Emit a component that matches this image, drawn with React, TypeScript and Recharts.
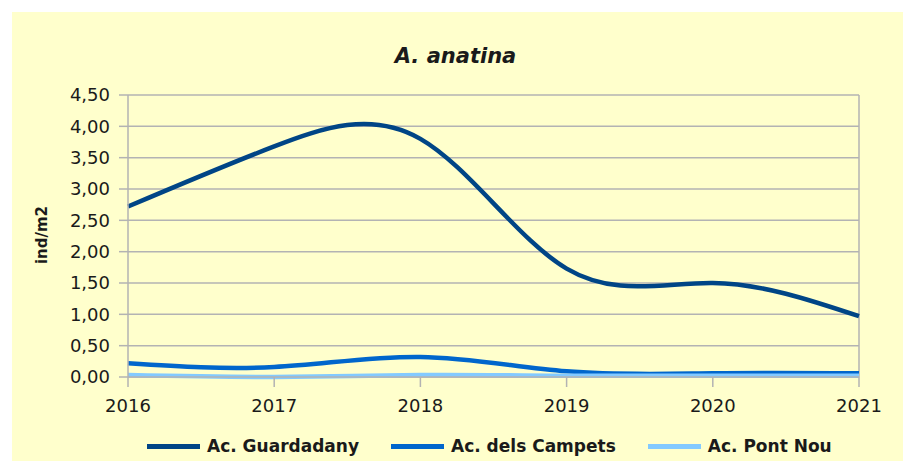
import {
  CartesianGrid,
  Line,
  LineChart,
  ReferenceLine,
  XAxis,
  YAxis,
} from "recharts";

const years = [2016, 2017, 2018, 2019, 2020, 2021];
const guardadany = [2.72, 3.68, 3.8, 1.73, 1.5, 0.97];
const campets = [0.22, 0.16, 0.32, 0.09, 0.06, 0.06];
const pontNou = [0.03, 0.0, 0.03, 0.02, 0.02, 0.02];
const yTicks = [0, 0.5, 1, 1.5, 2, 2.5, 3, 3.5, 4, 4.5];

const series = [
  { key: "guardadany", name: "Ac. Guardadany", color: "#004586" },
  { key: "campets", name: "Ac. dels Campets", color: "#0066cc" },
  { key: "pontNou", name: "Ac. Pont Nou", color: "#83caff" },
];

const data = years.map((year, i) => ({
  year,
  guardadany: guardadany[i],
  campets: campets[i],
  pontNou: pontNou[i],
}));

const W = 891;
const H = 449;
const GRID = "#b3b3b3";
const TEXT = "#1a1a1a";
const FONT = "'DejaVu Sans', Verdana, sans-serif";

const fmt = (v: number) => v.toFixed(2).replace(".", ",");

export default function App() {
  return (
    <div
      style={{
        position: "absolute",
        left: 12,
        top: 12,
        width: W,
        height: H,
        background: "#ffffcc",
        fontFamily: FONT,
      }}
    >
      <div
        style={{
          position: "absolute",
          left: 0,
          width: W - 4,
          top: 32,
          textAlign: "center",
          fontWeight: "bold",
          fontStyle: "italic",
          fontSize: 21,
          color: TEXT,
        }}
      >
        A. anatina
      </div>
      <div
        style={{
          position: "absolute",
          left: 30,
          top: 223,
          transform: "translate(-50%, -50%) rotate(-90deg)",
          fontWeight: "bold",
          fontSize: 15,
          color: TEXT,
          whiteSpace: "nowrap",
        }}
      >
        ind/m2
      </div>
      <LineChart
        width={W}
        height={H}
        data={data}
        margin={{ top: 83, right: 44, bottom: 44, left: 6 }}
      >
        <CartesianGrid stroke={GRID} strokeWidth={1.5} vertical={false} />
        <XAxis
          dataKey="year"
          type="number"
          domain={[2016, 2021]}
          ticks={years}
          tickSize={10}
          tickMargin={12}
          height={40}
          stroke={GRID}
          strokeWidth={1.5}
          tick={{ fill: TEXT, fontSize: 18, fontFamily: FONT }}
        />
        <YAxis
          type="number"
          domain={[0, 4.5]}
          ticks={yTicks}
          tickFormatter={fmt}
          width={110}
          tickSize={9}
          tickMargin={9}
          stroke={GRID}
          strokeWidth={1.5}
          tick={{ fill: TEXT, fontSize: 18, fontFamily: FONT }}
        />
        <ReferenceLine x={2021} stroke={GRID} strokeWidth={1.5} />
        {series.map((s) => (
          <Line
            key={s.key}
            dataKey={s.key}
            name={s.name}
            type="natural"
            stroke={s.color}
            strokeWidth={4.5}
            dot={false}
            activeDot={false}
            isAnimationActive={false}
          />
        ))}
      </LineChart>
      <div
        style={{
          position: "absolute",
          left: 135,
          top: 424,
          display: "flex",
          alignItems: "center",
          fontWeight: "bold",
          fontSize: 17,
          color: TEXT,
        }}
      >
        {series.map((s) => (
          <div
            key={s.key}
            style={{
              display: "flex",
              alignItems: "center",
              marginRight: 32,
            }}
          >
            <span
              style={{
                display: "inline-block",
                width: 53,
                height: 5,
                background: s.color,
                marginRight: 7,
              }}
            />
            <span>{s.name}</span>
          </div>
        ))}
      </div>
    </div>
  );
}
